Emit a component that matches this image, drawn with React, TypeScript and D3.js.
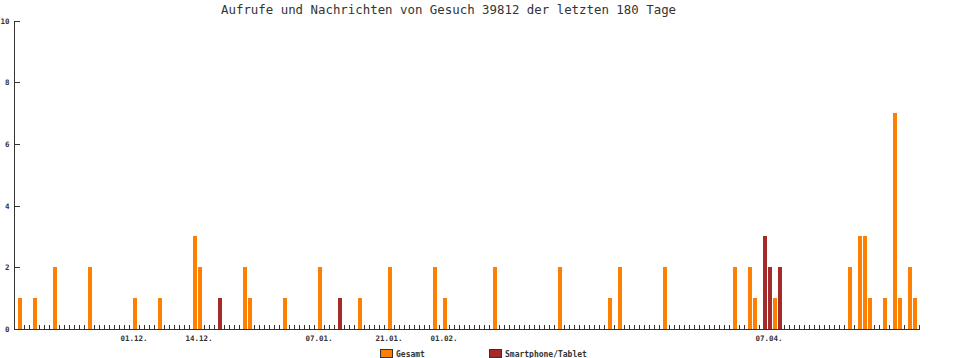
import React from "react";
import * as d3 from "d3";

const title = "Aufrufe und Nachrichten von Gesuch 39812 der letzten 180 Tage";

// day index 1..180
const gesamt = [
  1,0,0,1,0,0,0,2,0,0,0,0,0,0,2,0,0,0,0,0,
  0,0,0,1,0,0,0,0,1,0,0,0,0,0,0,3,2,0,0,0,
  1,0,0,0,0,2,1,0,0,0,0,0,0,1,0,0,0,0,0,0,
  2,0,0,0,1,0,0,0,1,0,0,0,0,0,2,0,0,0,0,0,
  0,0,0,2,0,1,0,0,0,0,0,0,0,0,0,2,0,0,0,0,
  0,0,0,0,0,0,0,0,2,0,0,0,0,0,0,0,0,0,1,0,
  2,0,0,0,0,0,0,0,0,2,0,0,0,0,0,0,0,0,0,0,
  0,0,0,2,0,0,2,1,0,3,2,1,2,0,0,0,0,0,0,0,
  0,0,0,0,0,0,2,0,3,3,1,0,0,1,0,7,1,0,2,1,
];
const smartphone = [
  0,0,0,0,0,0,0,0,0,0,0,0,0,0,0,0,0,0,0,0,
  0,0,0,0,0,0,0,0,0,0,0,0,0,0,0,0,0,0,0,0,
  1,0,0,0,0,0,0,0,0,0,0,0,0,0,0,0,0,0,0,0,
  0,0,0,0,1,0,0,0,0,0,0,0,0,0,0,0,0,0,0,0,
  0,0,0,0,0,0,0,0,0,0,0,0,0,0,0,0,0,0,0,0,
  0,0,0,0,0,0,0,0,0,0,0,0,0,0,0,0,0,0,0,0,
  0,0,0,0,0,0,0,0,0,0,0,0,0,0,0,0,0,0,0,0,
  0,0,0,0,0,0,0,0,0,3,2,0,2,0,0,0,0,0,0,0,
  0,0,0,0,0,0,0,0,0,0,0,0,0,0,0,0,0,0,0,0,
];
const xLabels = ["01.12.", "14.12.", "07.01.", "21.01.", "01.02.", "07.04."];
const xLabelDays = [24, 37, 61, 75, 86, 151];
const yTicks = [0, 2, 4, 6, 8, 10];
const legendLabels = ["Gesamt", "Smartphone/Tablet"];
const colors = ["#FF8000", "#A52A2A"];

const W = 970;
const H = 358;
const axisColor = "#333333";
const font = "'DejaVu Sans Mono', monospace";

export default function App() {
  const nDays = gesamt.length;
  const xs = d3.scaleLinear().domain([0, nDays + 1]).range([14, 919]);
  const ys = d3.scaleLinear().domain([0, 10]).range([329, 20.5]);
  const days = d3.range(1, nDays + 1);
  const base = ys(0);

  return (
    <svg
      width={W}
      height={H}
      style={{ position: "absolute", left: 0, top: 0, background: "#fff" }}
      shapeRendering="crispEdges"
    >
      <rect x={0} y={0} width={W} height={H} fill="#fff" />
      <text x={221} y={13.5} fontFamily={font} fontSize={12.4} fill="#333">
        {title}
      </text>

      {/* x minor ticks */}
      {d3.range(1, nDays + 2).map((k) => (
        <line
          key={"t" + k}
          x1={Math.round(xs(k)) + 0.5}
          x2={Math.round(xs(k)) + 0.5}
          y1={base - 4}
          y2={base}
          stroke={axisColor}
          strokeWidth={1}
        />
      ))}

      {/* bars */}
      {days.map((d, i) =>
        gesamt[i] > 0 ? (
          <rect
            key={"g" + d}
            x={Math.round(xs(d)) - 1}
            y={Math.round(ys(gesamt[i]))}
            width={4}
            height={base - Math.round(ys(gesamt[i]))}
            fill={colors[0]}
          />
        ) : null
      )}
      {days.map((d, i) =>
        smartphone[i] > 0 ? (
          <rect
            key={"s" + d}
            x={Math.round(xs(d)) - 1}
            y={Math.round(ys(smartphone[i]))}
            width={4}
            height={base - Math.round(ys(smartphone[i]))}
            fill={colors[1]}
          />
        ) : null
      )}

      {/* axes */}
      <line x1={14} x2={920} y1={base + 0.5} y2={base + 0.5} stroke={axisColor} />
      <line x1={14.5} x2={14.5} y1={ys(10)} y2={base + 1} stroke={axisColor} />
      {yTicks.map((v) => (
        <g key={"y" + v}>
          <line
            x1={15}
            x2={20}
            y1={Math.round(ys(v)) + 0.5}
            y2={Math.round(ys(v)) + 0.5}
            stroke={axisColor}
          />
          <text
            x={9.5}
            y={Math.round(ys(v)) + 3}
            textAnchor="end"
            fontFamily={font}
            fontSize={7.5}
            fontWeight="bold"
            fill="#333"
          >
            {v}
          </text>
        </g>
      ))}
      {xLabels.map((l, i) => (
        <text
          key={"xl" + i}
          x={xs(xLabelDays[i])}
          y={340.5}
          textAnchor="middle"
          fontFamily={font}
          fontSize={7.5}
          fontWeight="bold"
          fill="#333"
        >
          {l}
        </text>
      ))}

      {/* legend */}
      {legendLabels.map((l, i) => {
        const lx = i === 0 ? 380 : 489;
        return (
          <g key={"lg" + i}>
            <rect x={lx + 0.5} y={349.5} width={12} height={8} fill={colors[i]} stroke={axisColor} />
            <text x={lx + 16} y={357} fontFamily={font} fontSize={8} fontWeight="bold" fill="#333">
              {l}
            </text>
          </g>
        );
      })}
    </svg>
  );
}
